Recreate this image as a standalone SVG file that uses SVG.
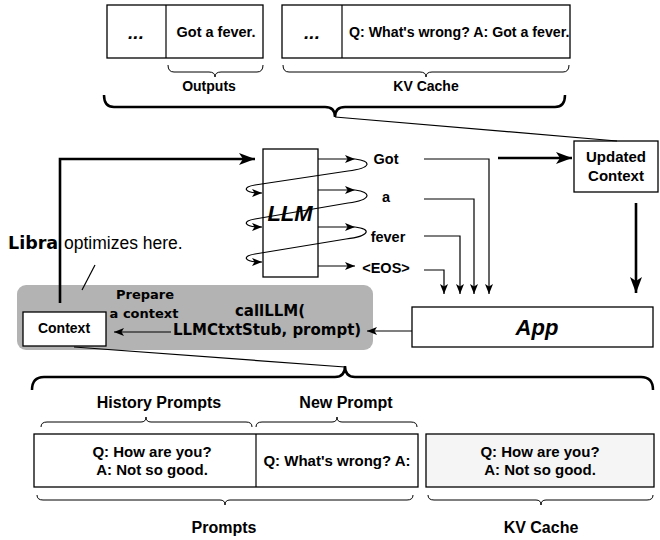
<svg xmlns="http://www.w3.org/2000/svg" width="660" height="540" viewBox="0 0 660 540">
<defs>
<style>
text{font-family:"Liberation Sans",Arial,sans-serif;font-weight:bold;fill:#000}
.c{text-anchor:middle}
.box{fill:#fff;stroke:#000;stroke-width:1.3}
.ln{fill:none;stroke:#000;stroke-width:1.2}
.thk{fill:none;stroke:#000;stroke-width:2.6}
.br{fill:none;stroke:#000;stroke-width:1}
.bbr{fill:none;stroke:#000;stroke-width:2.5}
.dj{font-family:"DejaVu Sans",Verdana,sans-serif}
</style>
<marker id="a" markerUnits="userSpaceOnUse" markerWidth="10" markerHeight="8" refX="10" refY="4" orient="auto" viewBox="0 0 10 8"><path d="M0,0 L10,4 L0,8 L2.5,4 z"/></marker>
<marker id="t" markerUnits="userSpaceOnUse" markerWidth="16" markerHeight="12" refX="16" refY="6" orient="auto" viewBox="0 0 16 12"><path d="M0,0 L16,6 L0,12 L4,6 z"/></marker>
</defs>

<!-- top section -->
<g id="outputs-box">
<rect class="box" x="107" y="5" width="156" height="53"/>
<line class="ln" x1="166" y1="5" x2="166" y2="58"/>
<text class="c" x="136" y="39" font-size="19" font-style="italic">...</text>
<text class="c" x="216" y="37" font-size="14.5">Got a fever.</text>
</g>
<g id="kvcache-top">
<rect class="box" x="282" y="5" width="288" height="53"/>
<line class="ln" x1="342" y1="5" x2="342" y2="58"/>
<text class="c" x="312" y="39" font-size="19" font-style="italic">...</text>
<text x="349" y="37" font-size="14.2">Q: What's wrong? A: Got a fever.</text>
</g>
<g id="top-braces">
<path class="br" d="M168,65 Q168,72 174,72 L209,72 Q215,72 215,77 Q215,72 221,72 L257,72 Q263,72 263,65"/>
<text class="c" x="209" y="91" font-size="14">Outputs</text>
<path class="br" d="M283,65 Q283,72 289,72 L420,72 Q426,72 426,77 Q426,72 432,72 L563,72 Q569,72 569,65"/>
<text class="c" x="426" y="91" font-size="14">KV Cache</text>
<path class="bbr" d="M104,95 Q104,107 114,107 L325,107 Q335,107 335,117 Q335,107 345,107 L555,107 Q565,107 565,95"/>
</g>

<!-- LLM -->
<g id="llm">
<rect class="box" x="263" y="149" width="55" height="128"/>
<text class="c" x="290" y="221" font-size="22" font-style="italic">LLM</text>
</g>

<g id="tokens">
<text class="c" x="386" y="164" font-size="14.5">Got</text>
<text class="c" x="386" y="202" font-size="14.5">a</text>
<text class="c" x="388" y="242" font-size="14.5">fever</text>
<text class="c" x="386" y="273" font-size="14.5">&lt;EOS&gt;</text>
</g>

<g id="updated-context">
<rect class="box" x="574" y="141" width="84" height="51"/>
<text class="c" x="616" y="162" font-size="15">Updated</text>
<text class="c" x="616" y="181" font-size="15">Context</text>
</g>

<g id="libra-note">
<text x="8" y="249" font-size="17.5" class="dj">Libra</text>
<text x="64" y="249" font-size="17.5" style="font-weight:normal">optimizes here.</text>
</g>

<g id="prepare-area">
<rect x="17" y="285" width="356" height="65" rx="9" fill="#b3b3b3"/>
<text class="c dj" x="145" y="299" font-size="13">Prepare</text>
<text class="c dj" x="144" y="318" font-size="13">a context</text>
<text class="c dj" x="270" y="316" font-size="15">callLLM(</text>
<text class="dj" x="173" y="335" font-size="15">LLMCtxtStub, prompt)</text>
</g>

<g id="context">
<rect class="box" x="23" y="312" width="83" height="34"/>
<text class="c" x="64" y="333" font-size="14">Context</text>
</g>

<g id="app">
<rect class="box" x="412" y="307" width="241" height="40"/>
<text class="c" x="537" y="335" font-size="22" font-style="italic">App</text>
</g>

<!-- bottom -->
<g id="prompts">
<rect class="box" x="34" y="434" width="384" height="53"/>
<line class="ln" x1="256" y1="434" x2="256" y2="487"/>
<text class="c" x="152" y="457" font-size="15">Q: How are you?</text>
<text class="c" x="152" y="475" font-size="15">A: Not so good.</text>
<text class="c" x="337" y="466" font-size="15">Q: What's wrong? A:</text>
</g>
<g id="kvcache-bottom">
<rect x="426" y="434" width="228" height="53" fill="#f5f5f5" stroke="#000" stroke-width="1.3"/>
<text class="c" x="540" y="457" font-size="15">Q: How are you?</text>
<text class="c" x="540" y="475" font-size="15">A: Not so good.</text>
</g>
<g id="bottom-braces">
<path class="bbr" d="M32,390 Q32,377 44,377 L335,377 Q345,377 345,366 Q345,377 355,377 L641,377 Q653,377 653,390"/>
<text class="c" x="159" y="408" font-size="16">History Prompts</text>
<text class="c" x="346" y="408" font-size="16">New Prompt</text>
<path class="br" d="M41,427 Q41,422 47,422 L141,422 Q146,422 146,417 Q146,422 151,422 L246,422 Q252,422 252,427"/>
<path class="br" d="M256,427 Q256,422 262,422 L332,422 Q337,422 337,417 Q337,422 342,422 L411,422 Q417,422 417,427"/>
<path class="br" d="M37,495 Q37,500 43,500 L220,500 Q225,500 225,505 Q225,500 230,500 L407,500 Q413,500 413,495"/>
<path class="br" d="M428,495 Q428,500 434,500 L536,500 Q541,500 541,505 Q541,500 546,500 L647,500 Q653,500 653,495"/>
<text class="c" x="224" y="533" font-size="16">Prompts</text>
<text class="c" x="541" y="533" font-size="16">KV Cache</text>
</g>

<g id="connectors">
<path class="thk" d="M60,303 V159 H255" marker-end="url(#t)"/>
<path class="thk" d="M498,158 H572" marker-end="url(#t)"/>
<path class="thk" d="M636,203 V293" marker-end="url(#t)"/>
<line class="ln" x1="335" y1="117" x2="617" y2="141"/>
<line class="ln" x1="95" y1="265" x2="82" y2="290"/>
<line class="ln" x1="74" y1="347" x2="345" y2="367"/>
<line class="ln" x1="318" y1="159" x2="355" y2="159" marker-end="url(#a)"/>
<line class="ln" x1="318" y1="190" x2="355" y2="190" marker-end="url(#a)"/>
<line class="ln" x1="318" y1="227" x2="355" y2="227" marker-end="url(#a)"/>
<line class="ln" x1="318" y1="266" x2="355" y2="266" marker-end="url(#a)"/>
<path class="ln" d="M355,159 C372,161 372,168 348,171 L255,185 C242,187 243,193 262,193" marker-end="url(#a)"/>
<path class="ln" d="M355,190 C372,192 372,200 348,203 L255,219 C242,221 243,227 262,227" marker-end="url(#a)"/>
<path class="ln" d="M355,227 C372,229 370,236 346,239 L255,254 C242,256 243,262 262,262" marker-end="url(#a)"/>
<path class="ln" d="M424,159 H489 V294" marker-end="url(#a)"/>
<path class="ln" d="M424,199 H474 V294" marker-end="url(#a)"/>
<path class="ln" d="M424,236 H460 V294" marker-end="url(#a)"/>
<path class="ln" d="M424,270 H444 V294" marker-end="url(#a)"/>
<line class="ln" x1="412" y1="331" x2="367" y2="331" stroke-width="1.5" marker-end="url(#a)"/>
<line class="ln" x1="171" y1="332" x2="114" y2="332" stroke-width="1.5" marker-end="url(#a)"/>
</g>
</svg>
